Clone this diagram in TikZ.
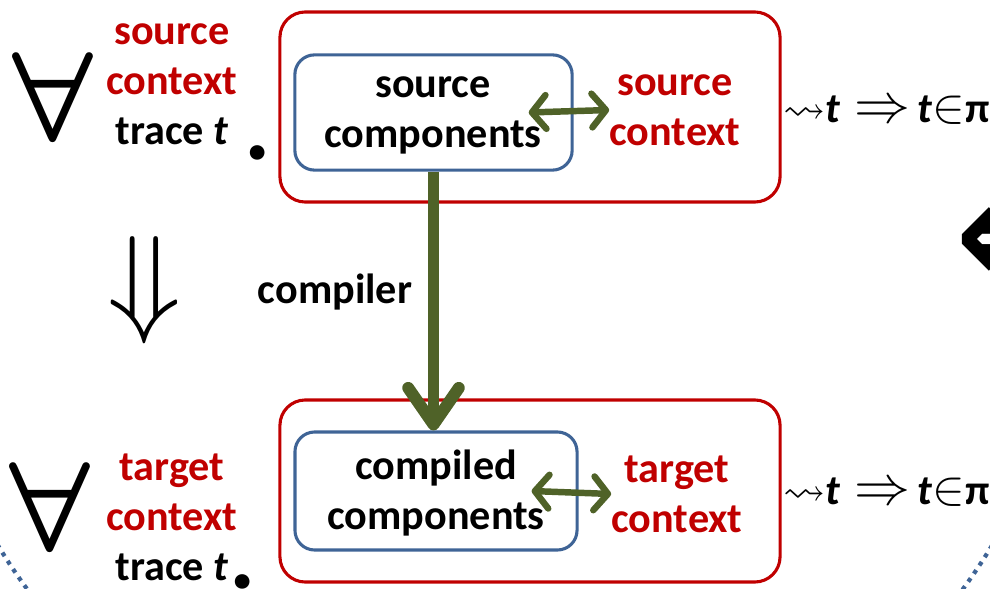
\documentclass[tikz,border=0pt]{standalone}
\usepackage{fontspec}
\usepackage{amssymb}
\usepackage{graphicx}
\setmainfont{Carlito}
\newfontfamily\symfont{DejaVu Sans}
\usetikzlibrary{arrows.meta,calc}
\definecolor{ctxred}{HTML}{C00000}
\definecolor{compblue}{HTML}{3F6496}
\definecolor{compgreen}{HTML}{4F6228}

\begin{document}
\begin{tikzpicture}[x=0.025cm,y=-0.025cm,
  txt/.style={font=\fontsize{30}{35.5}\selectfont\bfseries, align=center, inner sep=0pt},
  redtxt/.style={txt, text=ctxred},
  ctxbox/.style={draw=ctxred, line width=2.2pt, rounded corners=18pt, minimum width=12.5cm},
  compbox/.style={draw=compblue, line width=2.2pt, rounded corners=14pt},
  bigsym/.style={inner sep=0pt},
  link/.style={compgreen, line width=4.6pt, {Straight Barb[length=10pt,width=24pt,round]}-{Straight Barb[length=10pt,width=24pt,round]}},
  compile/.style={compgreen, line width=8.5pt, -{Straight Barb[length=26pt,width=36pt,round]}}]
\useasboundingbox (0,0) rectangle (990,589);
\clip (0,0) rectangle (990,589);

% source side
\node[ctxbox, minimum height=4.75cm] (srcbox) at (530,107) {};
\node[compbox, minimum width=6.93cm, minimum height=2.88cm] (srccomp) at (433.5,112.5) {};
\node[txt] (srclbl) at (433,115) {source\\components};
\node[redtxt] (srcctx) at (675,110) {source\\context};
\draw[link] ($(srccomp.east)+(-45,0)$) -- (srcctx.west);

% target side
\node[ctxbox, minimum height=4.55cm] (tgtbox) at (530,491) {};
\node[compbox, minimum width=7.05cm, minimum height=2.95cm] (cmpcomp) at (436,491) {};
\node[txt] (cmplbl) at (436,493) {compiled\\components};
\node[redtxt] (tgtctx) at (677,494) {target\\context};
\draw[link] ($(cmpcomp.east)+(-47,0)$) -- (tgtctx.west);

% compiler arrow
\draw[compile] (srccomp.south) -- (srccomp.south |- cmpcomp.north);
\node[txt] (complbl) at (335,292) {compiler};

% quantifiers on the left
\node[bigsym] (allsrc) at (53,97) {\scalebox{9}{\boldmath$\forall$}};
\node[txt] (srcvars) at (172,84) {\textcolor{ctxred}{source}\\\textcolor{ctxred}{context}\\trace \textit{t}};
\node[bigsym, font=\fontsize{70}{70}\selectfont\bfseries] (srcdot) at (258,153) {.};
\node[bigsym] (alltgt) at (50,507) {\scalebox{9}{\boldmath$\forall$}};
\node[txt] (tgtvars) at (172,517) {\textcolor{ctxred}{target}\\\textcolor{ctxred}{context}\\trace \textit{t}};
\node[bigsym, font=\fontsize{70}{70}\selectfont\bfseries] (tgtdot) at (243,582) {.};
\node[bigsym] (impl) at (144,290) {\scalebox{8.6}{$\Downarrow$}};

% properties on the right
\node[txt, anchor=west] (srcprop) at (783,110) {$\rightsquigarrow$\textit{t}\,\,\scalebox{1.6}{$\Rightarrow$}\,\textit{t}\scalebox{1.4}{$\in$}π};
\node[txt, anchor=west] (tgtprop) at (783,492) {$\rightsquigarrow$\textit{t}\,\,\scalebox{1.6}{$\Rightarrow$}\,\textit{t}\scalebox{1.4}{$\in$}π};
\node[bigsym, anchor=west, font=\symfont\bfseries\fontsize{100}{100}\selectfont] (equiv) at (955,246) {⇐};

% dotted outline
\draw[compblue, line width=3pt, dash pattern=on 3pt off 4pt] (495,246) circle (14.5cm);
\end{tikzpicture}
\end{document}
